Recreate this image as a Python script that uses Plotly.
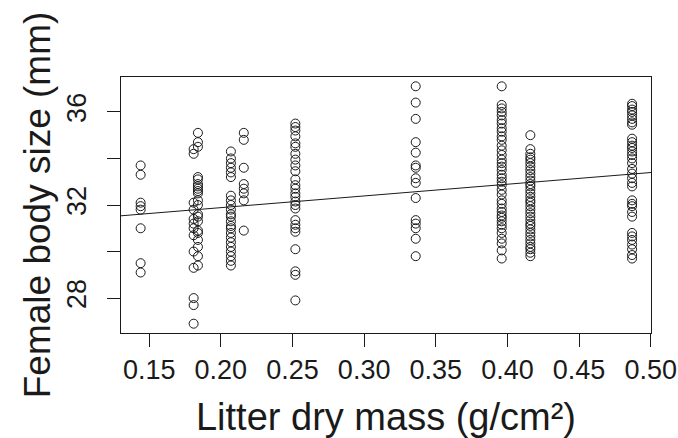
import plotly.graph_objects as go

# ---- data ----
litter_levels = [0.144, 0.181, 0.184, 0.207, 0.216, 0.252, 0.336, 0.396, 0.416, 0.487]

size_g1 = [33.7, 33.3, 32.1, 31.95, 31.8, 31.0, 29.5, 29.1]
size_g2 = [34.4, 34.2, 32.1, 31.8, 31.4, 31.2, 31.0, 30.7, 30.0, 29.3, 28.0, 27.7, 26.9]
size_g3 = [35.1, 34.7, 34.5, 33.2, 33.1, 32.9, 32.8, 32.7, 32.6, 32.5, 32.2, 32.0,
           31.6, 31.5, 31.3, 30.9, 30.8, 30.5, 30.2, 29.8, 29.4]
size_g4 = [34.3, 34.0, 33.8, 33.6, 33.4, 33.2, 32.4, 32.2, 32.0, 31.8, 31.6, 31.5,
           31.3, 31.1, 31.0, 30.8, 30.6, 30.4, 30.2, 30.0, 29.8, 29.6, 29.4]
size_g5 = [35.1, 34.8, 33.6, 32.9, 32.7, 32.5, 32.2, 30.9]
size_g6 = [35.5, 35.35, 35.2, 34.95, 34.65, 34.5, 34.2, 33.95, 33.7, 33.45, 33.1, 32.85,
           32.7, 32.5, 32.35, 32.15, 32.0, 31.85, 31.35, 31.15, 31.0, 30.85, 30.1, 29.15,
           29.0, 27.9]
size_g7 = [37.1, 36.4, 35.7, 34.7, 34.25, 33.7, 33.6, 33.15, 32.95, 32.3, 31.35, 31.2,
           31.0, 30.55, 29.8]
size_g8 = [37.1, 36.3, 36.15, 36.0, 35.85, 35.65, 35.5, 35.3, 35.15, 34.95, 34.8, 34.55,
           34.35, 34.15, 33.95, 33.8, 33.65, 33.5, 33.3, 33.15, 33.0, 32.85, 32.65, 32.45,
           32.2, 32.05, 31.85, 31.7, 31.55, 31.45, 31.3, 31.15, 31.0, 30.8, 30.55, 30.35,
           30.05, 29.7]
size_g9 = [35.0, 34.4, 34.2, 34.05, 33.95, 33.8, 33.65, 33.5, 33.35, 33.2, 33.05, 32.9,
           32.8, 32.65, 32.5, 32.35, 32.2, 32.1, 31.95, 31.8, 31.65, 31.5, 31.35, 31.2,
           31.1, 30.95, 30.8, 30.65, 30.5, 30.35, 30.2, 30.1, 29.95, 29.8]
size_g10 = [36.35, 36.25, 36.1, 36.0, 35.85, 35.7, 35.55, 35.45, 34.85, 34.7, 34.55, 34.45,
            34.3, 34.15, 34.0, 33.8, 33.55, 33.35, 33.15, 32.95, 32.8, 32.2, 32.05, 31.95,
            31.7, 31.5, 30.8, 30.65, 30.5, 30.3, 30.1, 29.85, 29.7]

size_groups = [size_g1, size_g2, size_g3, size_g4, size_g5,
               size_g6, size_g7, size_g8, size_g9, size_g10]

fit_intercept = 30.88
fit_slope = 5.03

x_tick_vals = [0.15, 0.20, 0.25, 0.30, 0.35, 0.40, 0.45, 0.50]
x_tick_text = ["0.15", "0.20", "0.25", "0.30", "0.35", "0.40", "0.45", "0.50"]
y_tick_vals = [28, 30, 32, 34, 36]
y_tick_text = ["28", "", "32", "", "36"]

x_range = [0.1303, 0.5002]
y_range = [26.5, 37.5]

# ---- build flat arrays ----
xs, ys = [], []
for lvl, grp in zip(litter_levels, size_groups):
    xs += [lvl] * len(grp)
    ys += grp

line_x = x_range
line_y = [fit_intercept + fit_slope * v for v in line_x]

FONT = "Liberation Sans, Arial, Helvetica, sans-serif"
INK = "#1a1a1a"

fig = go.Figure()
fig.add_trace(go.Scatter(
    x=xs, y=ys, mode="markers",
    marker=dict(symbol="circle-open", size=9, color=INK, line=dict(width=1, color=INK)),
    hoverinfo="skip", showlegend=False,
))
fig.add_trace(go.Scatter(
    x=line_x, y=line_y, mode="lines",
    line=dict(color=INK, width=1),
    hoverinfo="skip", showlegend=False,
))

fig.update_layout(
    width=678, height=438,
    margin=dict(l=121, r=27, t=77, b=105),
    paper_bgcolor="white", plot_bgcolor="white",
    font=dict(family=FONT, color=INK),
    showlegend=False,
)
fig.update_xaxes(
    range=x_range, tickvals=x_tick_vals, ticktext=x_tick_text,
    ticks="outside", ticklen=13, tickwidth=1, tickcolor=INK,
    showline=True, linecolor=INK, linewidth=1, mirror=True,
    showgrid=False, zeroline=False,
    tickfont=dict(size=27, family=FONT, color=INK),
    title=dict(text="Litter dry mass (g/cm²)", font=dict(size=38, family=FONT, color=INK), standoff=23),
    automargin=False,
)
fig.update_yaxes(
    range=y_range, tickvals=y_tick_vals, ticktext=y_tick_text, tickangle=-90,
    ticks="outside", ticklen=13, tickwidth=1, tickcolor=INK,
    showline=True, linecolor=INK, linewidth=1, mirror=True,
    showgrid=False, zeroline=False,
    tickfont=dict(size=27, family=FONT, color=INK),
    ticklabelstandoff=10,
    title=dict(text="Female body size (mm)", font=dict(size=37, family=FONT, color=INK), standoff=0),
    automargin=False,
)

fig.write_html(
    "out.html",
    config={"displayModeBar": False},
    post_script="document.body.style.margin='0';document.body.style.overflow='hidden';",
)
